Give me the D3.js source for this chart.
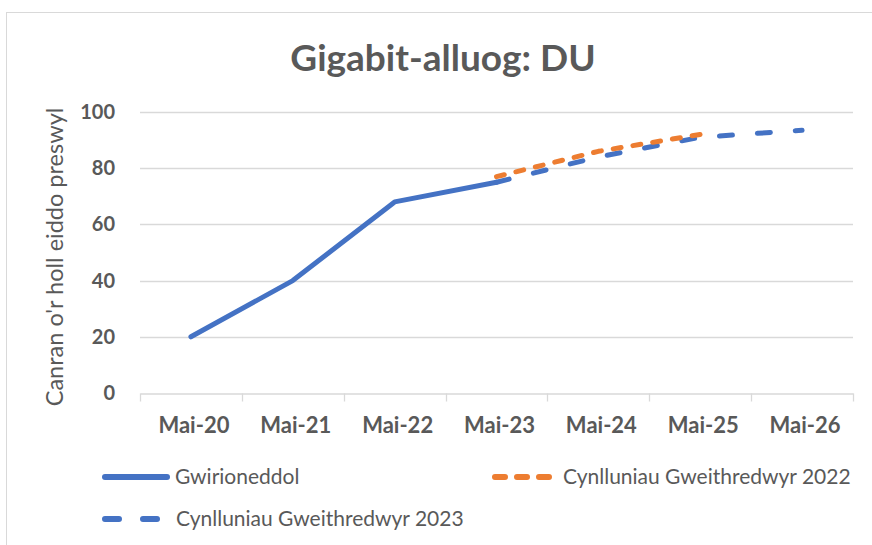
<!DOCTYPE html>
<html>
<head>
<meta charset="utf-8">
<script src="https://cdn.jsdelivr.net/npm/d3@7"></script>
<style>
  body { margin: 0; background: #fff; }
  svg text { font-family: Lato, "Open Sans", sans-serif; fill: #595959; }
</style>
</head>
<body>
<div id="chart"></div>
<script>
  // chart data
  var categories = ["Mai-20", "Mai-21", "Mai-22", "Mai-23", "Mai-24", "Mai-25", "Mai-26"];
  var actual = [20, 40, 68, 75, null, null, null];
  var plans2022 = [null, null, null, 77, 86, 92, null];
  var plans2023 = [null, null, null, 75, 84, 91, 93.5];
  var yTicks = [0, 20, 40, 60, 80, 100];

  var width = 872, height = 545;
  var plot = {left: 140, right: 853, top: 112, bottom: 393};

  var svg = d3.select("#chart").append("svg")
      .attr("width", width)
      .attr("height", height);

  // chart frame
  svg.append("rect")
      .attr("x", 6.5).attr("y", 12.5)
      .attr("width", width).attr("height", height)
      .attr("fill", "none")
      .attr("stroke", "#d9d9d9");

  var xScale = d3.scaleBand()
      .domain(categories)
      .range([plot.left, plot.right]);

  var yScale = d3.scaleLinear()
      .domain([0, 100])
      .range([plot.bottom, plot.top]);

  // gridlines
  svg.append("g")
      .selectAll("line")
      .data(yTicks.filter(function(d) { return d > 0; }))
      .enter().append("line")
      .attr("x1", plot.left).attr("x2", plot.right)
      .attr("y1", function(d) { return Math.round(yScale(d)) + 0.5; })
      .attr("y2", function(d) { return Math.round(yScale(d)) + 0.5; })
      .attr("stroke", "#d9d9d9")
      .attr("stroke-width", 1.3);

  // y tick labels
  svg.append("g")
      .selectAll("text")
      .data(yTicks)
      .enter().append("text")
      .attr("x", 115)
      .attr("y", function(d) { return yScale(d) + 7; })
      .attr("text-anchor", "end")
      .attr("font-size", 20)
      .attr("font-weight", "bold")
      .text(function(d) { return d; });

  // x axis baseline and category ticks
  var xAxis = d3.axisBottom(xScale)
      .tickSize(0)
      .tickPadding(24);
  var xAxisGroup = svg.append("g")
      .attr("transform", "translate(0," + (Math.round(plot.bottom) + 0.5) + ")")
      .call(xAxis);
  xAxisGroup.select(".domain").attr("stroke", "#d9d9d9").attr("stroke-width", 1.3);
  xAxisGroup.selectAll("text")
      .attr("font-size", 22)
      .attr("font-weight", "bold")
      .attr("font-family", "Lato, sans-serif")
      .attr("fill", "#595959")
      .attr("dx", 3);
  var bounds = categories.map(function(c) { return xScale(c); }).concat([plot.right]);
  xAxisGroup.selectAll(".bound")
      .data(bounds)
      .enter().append("line")
      .attr("class", "bound")
      .attr("x1", function(d) { return Math.round(d) + 0.5; })
      .attr("x2", function(d) { return Math.round(d) + 0.5; })
      .attr("y1", 0).attr("y2", 8)
      .attr("stroke", "#d9d9d9")
      .attr("stroke-width", 1.3);

  // lines
  var line = d3.line()
      .defined(function(d) { return d != null; })
      .x(function(d, i) { return xScale(categories[i]) + xScale.bandwidth() / 2; })
      .y(function(d) { return yScale(d); });

  var series = [
    {name: "Cynlluniau Gweithredwyr 2023", values: plans2023, color: "#4472c4", dash: "13,25"},
    {name: "Cynlluniau Gweithredwyr 2022", values: plans2022, color: "#ed7d31", dash: "8,12"},
    {name: "Gwirioneddol", values: actual, color: "#4472c4", dash: null}
  ];

  svg.append("g")
      .selectAll("path")
      .data(series)
      .enter().append("path")
      .attr("d", function(d) { return line(d.values); })
      .attr("fill", "none")
      .attr("stroke", function(d) { return d.color; })
      .attr("stroke-width", 5)
      .attr("stroke-linecap", "round")
      .attr("stroke-linejoin", "round")
      .attr("stroke-dasharray", function(d) { return d.dash; });

  // title
  svg.append("text")
      .attr("x", 443)
      .attr("y", 71)
      .attr("text-anchor", "middle")
      .attr("font-size", 37)
      .attr("font-weight", "bold")
      .text("Gigabit-alluog: DU");

  // y axis title
  svg.append("text")
      .attr("transform", "translate(63,257) rotate(-90)")
      .attr("text-anchor", "middle")
      .attr("font-size", 23.5)
      .text("Canran o'r holl eiddo preswyl");

  // legend
  var legend = [
    {name: "Gwirioneddol", color: "#4472c4", dash: null, x: 102, y: 477, w: 68, tx: 73},
    {name: "Cynlluniau Gweithredwyr 2022", color: "#ed7d31", dash: "10,12", x: 492, y: 477, w: 60, tx: 71},
    {name: "Cynlluniau Gweithredwyr 2023", color: "#4472c4", dash: "14,24", x: 102, y: 519, w: 58, tx: 74}
  ];
  var item = svg.append("g")
      .selectAll("g")
      .data(legend)
      .enter().append("g")
      .attr("transform", function(d) { return "translate(" + d.x + "," + d.y + ")"; });
  item.append("line")
      .attr("x1", 3).attr("x2", function(d) { return d.w - 3; })
      .attr("stroke", function(d) { return d.color; })
      .attr("stroke-width", 6)
      .attr("stroke-linecap", "round")
      .attr("stroke-dasharray", function(d) { return d.dash; });
  item.append("text")
      .attr("x", function(d) { return d.tx; })
      .attr("y", 7)
      .attr("font-size", 21)
      .text(function(d) { return d.name; });
</script>
</body>
</html>
